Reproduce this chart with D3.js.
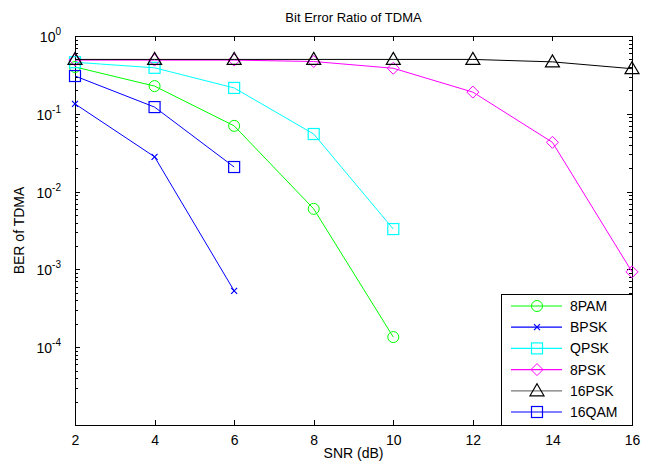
<!DOCTYPE html>
<html>
<head>
  <style type="text/css">
    body { margin: 0; background: #fff; }
    text { font-family: "Liberation Sans", Arial, sans-serif; }
    .axis path, .axis line { fill: none; stroke: #000; shape-rendering: crispEdges; }
    .axis text { font-size: 14px; fill: #000; }
  </style>
</head>
<body>
  <div class="svg_container"></div>
  <script src="https://cdnjs.cloudflare.com/ajax/libs/d3/7.8.5/d3.min.js"></script>
  <script type="text/javascript">
    // data
    var snr = [2, 4, 6, 8, 10, 12, 14, 16];
    var ber8PAM  = [0.40, 0.227, 0.070, 0.0060, 0.000135];
    var berBPSK  = [0.134, 0.028, 0.00053];
    var berQPSK  = [0.46, 0.39, 0.215, 0.055, 0.0033];
    var ber8PSK  = [0.49, 0.49, 0.49, 0.47, 0.385, 0.19, 0.043, 0.00093];
    var ber16PSK = [0.50, 0.50, 0.50, 0.50, 0.50, 0.50, 0.465, 0.38];
    var ber16QAM = [0.306, 0.122, 0.0207];
    var xTicks = [2, 4, 6, 8, 10, 12, 14, 16];
    var yDecades = [1e-5, 1e-4, 1e-3, 1e-2, 1e-1, 1];

    var series = [
      { name: "8PAM",  values: ber8PAM,  color: "#00ff00", marker: "circle" },
      { name: "BPSK",  values: berBPSK,  color: "#0000ff", marker: "x" },
      { name: "QPSK",  values: berQPSK,  color: "#00ffff", marker: "square" },
      { name: "8PSK",  values: ber8PSK,  color: "#ff00ff", marker: "diamond" },
      { name: "16PSK", values: ber16PSK, color: "#000000", marker: "triangle" },
      { name: "16QAM", values: ber16QAM, color: "#0000ff", marker: "square" }
    ];

    var margin = { top: 36, right: 19, bottom: 41, left: 75 },
      width = 651 - margin.left - margin.right,
      height = 466 - margin.top - margin.bottom;

    var x = d3.scaleLinear().domain([2, 16]).range([0, width]);
    var y = d3.scaleLog().domain([1e-5, 1]).range([height, 0]);

    var svg = d3.select(".svg_container").append("svg")
      .attr("width", 651)
      .attr("height", 466)
      .append("g")
      .attr("transform", "translate(" + margin.left + "," + margin.top + ")");

    // minor log ticks
    var minors = [];
    yDecades.slice(0, -1).forEach(function(d) {
      for (var k = 2; k <= 9; k++) minors.push(d * k);
    });

    // x axes (bottom with labels, top without)
    svg.append("g").attr("class", "axis")
      .attr("transform", "translate(0," + height + ")")
      .call(d3.axisBottom(x).tickValues(xTicks).tickSizeInner(-5).tickSizeOuter(0).tickPadding(10));
    svg.append("g").attr("class", "axis")
      .call(d3.axisTop(x).tickValues(xTicks).tickSizeInner(-5).tickSizeOuter(0).tickFormat(""));

    // y axes
    svg.append("g").attr("class", "axis")
      .call(d3.axisLeft(y).tickValues(yDecades).tickSizeInner(-5).tickSizeOuter(0).tickFormat(""));
    svg.append("g").attr("class", "axis")
      .call(d3.axisLeft(y).tickValues(minors).tickSizeInner(-3).tickSizeOuter(0).tickFormat(""));
    svg.append("g").attr("class", "axis")
      .attr("transform", "translate(" + width + ",0)")
      .call(d3.axisRight(y).tickValues(yDecades).tickSizeInner(-5).tickSizeOuter(0).tickFormat(""));
    svg.append("g").attr("class", "axis")
      .attr("transform", "translate(" + width + ",0)")
      .call(d3.axisRight(y).tickValues(minors).tickSizeInner(-3).tickSizeOuter(0).tickFormat(""));

    // y tick labels as 10^n
    yDecades.slice(1).forEach(function(d) {
      var t = svg.append("text")
        .attr("x", -14)
        .attr("y", y(d) + 6)
        .attr("text-anchor", "end")
        .style("font-size", "14px");
      t.append("tspan").text("10");
      t.append("tspan").attr("dy", -7).style("font-size", "10px").text(Math.round(Math.log10(d)));
    });

    // box
    svg.append("rect")
      .attr("width", width).attr("height", height)
      .attr("fill", "none").attr("stroke", "#000").attr("stroke-width", 1)
      .style("shape-rendering", "crispEdges");

    function drawMarker(g, type, color, cx, cy) {
      if (type === "circle") {
        g.append("circle").attr("cx", cx).attr("cy", cy).attr("r", 5.5)
          .attr("fill", "none").attr("stroke", color);
      } else if (type === "square") {
        g.append("rect").attr("x", cx - 5.5).attr("y", cy - 5.5).attr("width", 11).attr("height", 11)
          .attr("fill", "none").attr("stroke", color).attr("stroke-width", 1.2);
      } else if (type === "diamond") {
        g.append("path").attr("d", "M" + cx + "," + (cy - 6) + "L" + (cx + 6) + "," + cy + "L" + cx + "," + (cy + 6) + "L" + (cx - 6) + "," + cy + "Z")
          .attr("fill", "none").attr("stroke", color);
      } else if (type === "triangle") {
        g.append("path").attr("d", "M" + cx + "," + (cy - 7) + "L" + (cx + 7) + "," + (cy + 5) + "L" + (cx - 7) + "," + (cy + 5) + "Z")
          .attr("fill", "none").attr("stroke", color).attr("stroke-width", 1.2);
      } else if (type === "x") {
        g.append("path").attr("d", "M" + (cx - 3) + "," + (cy - 3) + "L" + (cx + 3) + "," + (cy + 3) + "M" + (cx - 3) + "," + (cy + 3) + "L" + (cx + 3) + "," + (cy - 3))
          .attr("fill", "none").attr("stroke", color).attr("stroke-width", 1.2);
      }
    }

    var line = d3.line()
      .x(function(d, i) { return x(snr[i]); })
      .y(function(d) { return y(d); });

    series.forEach(function(s) {
      var g = svg.append("g");
      g.append("path").datum(s.values)
        .attr("d", line)
        .attr("fill", "none")
        .attr("stroke", s.color)
        .attr("stroke-width", 1);
      s.values.forEach(function(v, i) {
        drawMarker(g, s.marker, s.color, x(snr[i]), y(v));
      });
    });

    // legend
    var lg = svg.append("g").attr("transform", "translate(" + (width - 131) + "," + (height - 131) + ")");
    lg.append("rect").attr("width", 131).attr("height", 131)
      .attr("fill", "#fff").attr("stroke", "#000").style("shape-rendering", "crispEdges");
    series.forEach(function(s, i) {
      var ly = 12 + i * 21.2;
      lg.append("line").attr("x1", 10).attr("x2", 61).attr("y1", ly).attr("y2", ly)
        .attr("stroke", s.color === "#000000" ? "#777" : s.color).attr("stroke-width", 1.2);
      drawMarker(lg, s.marker, s.color, 36, ly);
      lg.append("text").attr("x", 69).attr("y", ly + 5).style("font-size", "14px").text(s.name);
    });

    // titles
    svg.append("text").attr("x", width / 2).attr("y", -14)
      .attr("text-anchor", "middle").style("font-size", "13px").text("Bit Error Ratio of TDMA");
    svg.append("text").attr("x", width / 2).attr("y", height + 33)
      .attr("text-anchor", "middle").style("font-size", "14px").text("SNR (dB)");
    svg.append("text")
      .attr("transform", "translate(-51," + (height / 2) + ") rotate(-90)")
      .attr("text-anchor", "middle").style("font-size", "14px").text("BER of TDMA");
  </script>
</body>
</html>
